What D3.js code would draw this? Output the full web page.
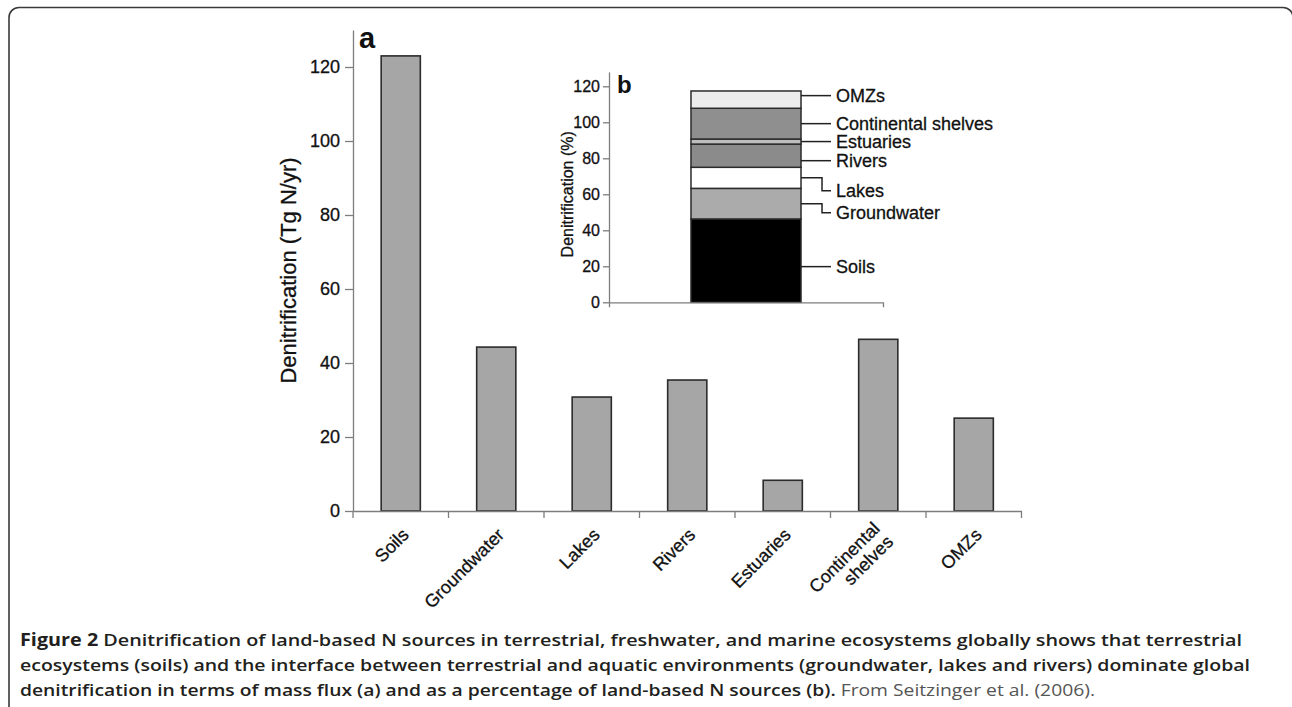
<!DOCTYPE html>
<html>
<head>
<meta charset="utf-8">
<script src="https://cdn.jsdelivr.net/npm/d3@7"></script>
<style>
  html, body { margin: 0; padding: 0; background: #fff; }
  svg { display: block; }
  .sans { font-family: "Liberation Sans", Arial, Helvetica, sans-serif; }
  .chart-text { stroke: #111; stroke-width: 0.3px; }
</style>
</head>
<body>
<svg id="chart" width="1292" height="707"></svg>
<script>
// ---------- data ----------
const categories = ["Soils", "Groundwater", "Lakes", "Rivers", "Estuaries", "Continental shelves", "OMZs"];
const fluxValues = [123, 44.3, 30.8, 35.4, 8.3, 46.4, 25.1];           // Tg N/yr (panel a)
const fluxTicks = [0, 20, 40, 60, 80, 100, 120];
const percentValues = [46.3, 17.0, 11.7, 12.9, 2.8, 17.1, 9.6];        // % (panel b, stacked)
const percentColors = ["#000000", "#ababab", "#ffffff", "#8b8b8b", "#bdbdbd", "#8f8f8f", "#ececec"];
const percentTicks = [0, 20, 40, 60, 80, 100, 120];
const captionBold1 = "Figure 2";
const captionLine1 = " Denitrification of land-based N sources in terrestrial, freshwater, and marine ecosystems globally shows that terrestrial";
const captionLine2 = "ecosystems (soils) and the interface between terrestrial and aquatic environments (groundwater, lakes and rivers) dominate global";
const captionLine3Bold = "denitrification in terms of mass flux (a) and as a percentage of land-based N sources (b).";
const captionLine3Normal = " From Seitzinger et al. (2006).";

// ---------- setup ----------
const svg = d3.select("#chart");
svg.append("rect").attr("width", 1292).attr("height", 707).attr("fill", "#fff");

// frame
svg.append("rect")
  .attr("x", 9).attr("y", 7.5).attr("width", 1284).attr("height", 800)
  .attr("rx", 10).attr("ry", 10)
  .attr("fill", "none").attr("stroke", "#3a3a3a").attr("stroke-width", 1.6);

const axisColor = "#7d7d7d";

// ---------- panel a ----------
const x = d3.scaleBand().domain(categories).range([353, 1021.5])
  .paddingInner(0.59).paddingOuter(0.295);
const y = d3.scaleLinear().domain([0, 130]).range([511, 30]);

const gA = svg.append("g").attr("class", "sans");

// bars
gA.selectAll("rect.bar").data(categories).join("rect")
  .attr("class", "bar")
  .attr("x", d => x(d))
  .attr("width", x.bandwidth())
  .attr("y", (d, i) => y(fluxValues[i]))
  .attr("height", (d, i) => y(0) - y(fluxValues[i]))
  .attr("fill", "#a6a6a6")
  .attr("stroke", "#2b2b2b")
  .attr("stroke-width", 1.6);

// y axis
const yAxis = gA.append("g").attr("transform", `translate(${x.range()[0]},0)`)
  .call(d3.axisLeft(y).tickValues(fluxTicks).tickSize(8).tickSizeOuter(0).tickPadding(5));
yAxis.select(".domain").attr("stroke", axisColor).attr("stroke-width", 1.3);
yAxis.selectAll(".tick line").attr("stroke", axisColor).attr("stroke-width", 1.3);
yAxis.selectAll(".tick text").attr("font-size", 18).attr("fill", "#111").attr("class", "chart-text")
  .attr("font-family", "Liberation Sans, Arial, sans-serif");

// x axis (line + boundary ticks)
const xAxis = gA.append("g").attr("transform", `translate(0,${y(0)})`)
  .call(d3.axisBottom(x).tickSize(0).tickSizeOuter(0).tickFormat(""));
xAxis.select(".domain").attr("stroke", axisColor).attr("stroke-width", 1.3);
const gap = (x.step() - x.bandwidth()) / 2;
const boundaries = categories.map(d => x(d) - gap).concat([x(categories[categories.length - 1]) + x.bandwidth() + gap]);
xAxis.selectAll("line.btick").data(boundaries).join("line")
  .attr("class", "btick")
  .attr("x1", d => d).attr("x2", d => d).attr("y1", 0).attr("y2", 7)
  .attr("stroke", axisColor).attr("stroke-width", 1.3);

// x labels
const xl = gA.append("g");
categories.forEach(c => {
  const cx = x(c) + x.bandwidth() / 2;
  const t = xl.append("text").attr("class", "chart-text")
    .attr("transform", `translate(${cx + 9},${y(0) + 25}) rotate(-45)`)
    .attr("text-anchor", "end").attr("font-size", 18).attr("fill", "#111");
  const words = c.split(" ");
  if (words.length === 1) {
    t.text(c);
  } else {
    t.append("tspan").attr("x", 0).attr("dy", "-0.5em").text(words[0]);
    t.append("tspan").attr("x", 0).attr("dy", "1.05em").text(words[1]);
  }
});

// y title
gA.append("text").attr("class", "chart-text")
  .attr("transform", `translate(296,${(y(0) + y(130)) / 2}) rotate(-90)`)
  .attr("text-anchor", "middle").attr("font-size", 22).attr("fill", "#111")
  .text("Denitrification (Tg N/yr)");

// panel letter
gA.append("text").attr("x", 359).attr("y", 48).attr("font-size", 29)
  .attr("font-weight", "bold").attr("fill", "#111").text("a");

// ---------- panel b (inset) ----------
const xb = d3.scaleBand().domain(["b"]).range([609, 883]).padding(0.427);
const yb = d3.scaleLinear().domain([0, 128]).range([302.3, 71.9]);
const gB = svg.append("g").attr("class", "sans");

const tops = d3.cumsum(percentValues);
const segs = categories.map((c, i) => ({ name: c, y0: tops[i] - percentValues[i], y1: tops[i], color: percentColors[i] }));

gB.selectAll("rect.seg").data(segs).join("rect")
  .attr("class", "seg")
  .attr("x", xb("b")).attr("width", xb.bandwidth())
  .attr("y", d => yb(d.y1)).attr("height", d => yb(d.y0) - yb(d.y1))
  .attr("fill", d => d.color)
  .attr("stroke", "#2b2b2b").attr("stroke-width", 1.5);

const ybAxis = gB.append("g").attr("transform", `translate(${xb.range()[0]},0)`)
  .call(d3.axisLeft(yb).tickValues(percentTicks).tickSize(6).tickSizeOuter(0).tickPadding(3));
ybAxis.select(".domain").attr("stroke", axisColor).attr("stroke-width", 1.3);
ybAxis.selectAll(".tick line").attr("stroke", axisColor).attr("stroke-width", 1.3);
ybAxis.selectAll(".tick text").attr("font-size", 16).attr("fill", "#111").attr("class", "chart-text")
  .attr("font-family", "Liberation Sans, Arial, sans-serif");

const xbAxis = gB.append("g").attr("transform", `translate(0,${yb(0)})`)
  .call(d3.axisBottom(xb).tickSize(0).tickSizeOuter(5).tickFormat(""));
xbAxis.select(".domain").attr("stroke", axisColor).attr("stroke-width", 1.3);

gB.append("text").attr("class", "chart-text")
  .attr("transform", `translate(573,${(yb(0) + yb(120)) / 2}) rotate(-90)`)
  .attr("text-anchor", "middle").attr("font-size", 16).attr("fill", "#111")
  .text("Denitrification (%)");

gB.append("text").attr("x", 617).attr("y", 93).attr("font-size", 24)
  .attr("font-weight", "bold").attr("fill", "#111").text("b");

// leader lines + labels (start offsets / label drops in px, layout only)
const startShift = { "OMZs": -4, "Rivers": 5, "Soils": 6 };
const labelDrop = { "Lakes": 13, "Groundwater": 9 };
const barRight = xb("b") + xb.bandwidth();
const elbowX = barRight + 21, labelLineEnd = barRight + 30, labelX = barRight + 35;
segs.forEach(s => {
  const ys = yb((s.y0 + s.y1) / 2) + (startShift[s.name] || 0);
  const drop = labelDrop[s.name] || 0;
  const ye = ys + drop;
  const path = drop
    ? `M${barRight},${ys}H${elbowX}V${ye}H${labelLineEnd}`
    : `M${barRight},${ys}H${labelLineEnd}`;
  gB.append("path").attr("d", path).attr("fill", "none")
    .attr("stroke", "#222").attr("stroke-width", 1.5);
  gB.append("text").attr("class", "chart-text").attr("x", labelX).attr("y", ye).attr("dy", "0.36em")
    .attr("font-size", 18).attr("fill", "#111").text(s.name);
});

// ---------- caption ----------
const cap = svg.append("g").attr("font-family", "'Open Sans', sans-serif").attr("font-size", 17).attr("fill", "#231f20");
const l1 = cap.append("text").attr("x", 20).attr("y", 646).attr("textLength", 1222).attr("lengthAdjust", "spacingAndGlyphs");
l1.append("tspan").attr("font-weight", "bold").text(captionBold1);
l1.append("tspan").attr("font-weight", 600).text(captionLine1);
cap.append("text").attr("x", 20).attr("y", 671).attr("textLength", 1230).attr("lengthAdjust", "spacingAndGlyphs")
  .attr("font-weight", 600).text(captionLine2);
const l3 = cap.append("text").attr("x", 20).attr("y", 696).attr("textLength", 1075).attr("lengthAdjust", "spacingAndGlyphs");
l3.append("tspan").attr("font-weight", 600).text(captionLine3Bold);
l3.append("tspan").attr("font-weight", "normal").attr("fill", "#555").text(captionLine3Normal);
</script>
</body>
</html>
